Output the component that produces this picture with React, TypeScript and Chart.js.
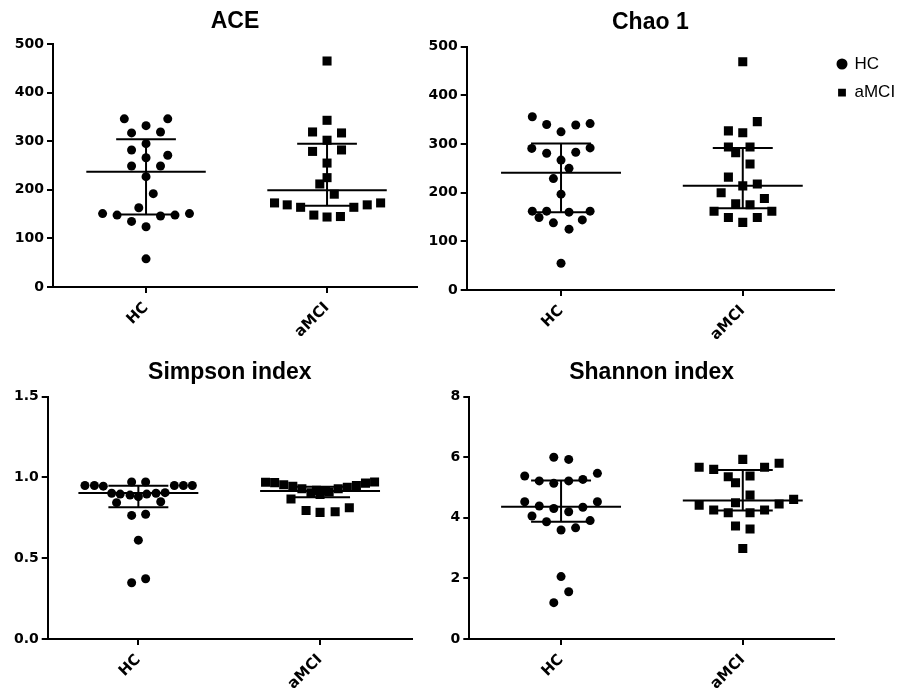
import React, { useEffect, useRef } from 'react';
import { Chart, registerables } from 'chart.js';

Chart.register(...registerables);

// ---------------- data ----------------
const groups = ['HC', 'aMCI'];
const legendLabels = ['HC', 'aMCI'];

// ACE
const aceHC = [346, 346, 332, 317, 319, 295, 282, 271, 266, 249, 249, 227, 192, 163, 151, 148, 146, 148, 151, 135, 124, 58];
const aceHCJitter = [-0.12, 0.12, 0, -0.08, 0.08, 0, -0.08, 0.12, 0, -0.08, 0.08, 0, 0.04, -0.04, -0.24, -0.16, 0.08, 0.16, 0.24, -0.08, 0, 0];
const aceAMCI = [465, 343, 319, 317, 302, 279, 282, 255, 225, 212, 191, 173, 169, 164, 164, 169, 173, 148, 144, 145];
const aceAMCIJitter = [0, 0, -0.08, 0.08, 0, -0.08, 0.08, 0, 0, -0.04, 0.04, -0.29, -0.22, -0.146, 0.148, 0.222, 0.296, -0.073, 0, 0.074];
const aceHCStats = [149, 237, 304]; // Q1, median, Q3
const aceAMCIStats = [167, 199, 295];
const aceYTicks = [0, 100, 200, 300, 400, 500];

// Chao 1
const chaoHC = [356, 340, 325, 339, 342, 291, 281, 283, 292, 267, 250, 229, 197, 162, 162, 160, 162, 149, 138, 144, 125, 55];
const chaoHCJitter = [-0.158, -0.079, 0, 0.081, 0.16, -0.161, -0.079, 0.081, 0.16, 0, 0.044, -0.042, 0, -0.158, -0.079, 0.044, 0.16, -0.121, -0.042, 0.117, 0.044, 0];
const chaoAMCI = [469, 346, 327, 323, 294, 294, 282, 259, 232, 214, 218, 200, 188, 177, 175, 162, 162, 149, 139, 149];
const chaoAMCIJitter = [0, 0.08, -0.079, 0, -0.079, 0.04, -0.039, 0.04, -0.079, 0, 0.08, -0.119, 0.119, -0.039, 0.04, -0.158, 0.16, -0.079, 0, 0.08];
const chaoHCStats = [160, 241, 301];
const chaoAMCIStats = [168, 214, 292];
const chaoYTicks = [0, 100, 200, 300, 400, 500];

// Simpson index
const simpsonHC = [0.95, 0.95, 0.946, 0.972, 0.972, 0.95, 0.95, 0.95, 0.902, 0.897, 0.891, 0.881, 0.897, 0.902, 0.906, 0.844, 0.85, 0.765, 0.772, 0.612, 0.348, 0.373];
const simpsonHCJitter = [-0.294, -0.242, -0.193, -0.037, 0.04, 0.198, 0.248, 0.297, -0.147, -0.1, -0.046, 0, 0.046, 0.097, 0.147, -0.12, 0.123, -0.037, 0.04, 0, -0.037, 0.04];
const simpsonAMCI = [0.97, 0.968, 0.955, 0.945, 0.93, 0.867, 0.905, 0.895, 0.91, 0.93, 0.94, 0.95, 0.965, 0.972, 0.795, 0.784, 0.788, 0.813, 0.92, 0.915];
const simpsonAMCIJitter = [-0.3, -0.25, -0.2, -0.15, -0.1, -0.16, -0.05, 0, 0.05, 0.1, 0.15, 0.2, 0.25, 0.3, -0.077, 0, 0.083, 0.161, -0.02, 0.03];
const simpsonHCStats = [0.815, 0.904, 0.949];
const simpsonAMCIStats = [0.877, 0.916, 0.943];
const simpsonYTicks = [0, 0.5, 1.0, 1.5];

// Shannon index
const shannonHC = [6.0, 5.93, 5.38, 5.47, 5.22, 5.14, 5.22, 5.27, 4.53, 4.39, 4.31, 4.2, 4.35, 4.53, 4.06, 3.87, 3.91, 3.6, 3.67, 2.06, 1.56, 1.2];
const shannonHCJitter = [-0.04, 0.042, -0.2, 0.2, -0.12, -0.04, 0.042, 0.12, -0.2, -0.12, -0.04, 0.042, 0.12, 0.2, -0.16, -0.08, 0.16, 0, 0.08, 0, 0.042, -0.04];
const shannonAMCI = [5.93, 5.67, 5.6, 5.67, 5.8, 5.36, 5.38, 5.16, 4.75, 4.5, 4.42, 4.26, 4.17, 4.17, 4.26, 4.46, 4.61, 3.73, 3.63, 2.99];
const shannonAMCIJitter = [0, -0.24, -0.16, 0.12, 0.2, -0.08, 0.04, -0.04, 0.04, -0.04, -0.24, -0.16, -0.08, 0.04, 0.12, 0.2, 0.28, -0.04, 0.04, 0];
const shannonHCStats = [3.87, 4.37, 5.23];
const shannonAMCIStats = [4.24, 4.57, 5.58];
const shannonYTicks = [0, 2, 4, 6, 8];

// ---------------- styling / layout ----------------
const TICK_FONT = "'DejaVu Sans', sans-serif";
const MAIN_FONT = "Arial, 'Liberation Sans', Helvetica, sans-serif";
const MED_HALF = 0.33;
const IQR_HALF = 0.165;

type PanelSpec = {
  title: string;
  hc: number[]; hcJit: number[];
  am: number[]; amJit: number[];
  hcStats: number[]; amStats: number[];
  yTicks: number[]; decimals: number;
  left: number; top: number; w: number; h: number;
  yWidth: number; xHeight: number; padRight: number;
  titleTop: number; titleBottom: number;
  xMin: number; xMax: number;
  legend: boolean;
};

const panels: PanelSpec[] = [
  {
    title: 'ACE', hc: aceHC, hcJit: aceHCJitter, am: aceAMCI, amJit: aceAMCIJitter,
    hcStats: aceHCStats, amStats: aceAMCIStats, yTicks: aceYTicks, decimals: 0,
    left: 0, top: 0, w: 440, h: 340, yWidth: 53, xHeight: 53, padRight: 23,
    titleTop: 8.2, titleBottom: 8.2, xMin: 0.486, xMax: 2.497, legend: false,
  },
  {
    title: 'Chao 1', hc: chaoHC, hcJit: chaoHCJitter, am: chaoAMCI, amJit: chaoAMCIJitter,
    hcStats: chaoHCStats, amStats: chaoAMCIStats, yTicks: chaoYTicks, decimals: 0,
    left: 420, top: 0, w: 494, h: 340, yWidth: 46.7, xHeight: 50, padRight: 0,
    titleTop: 9.2, titleBottom: 9.9, xMin: 0.481, xMax: 2.502, legend: true,
  },
  {
    title: 'Simpson index', hc: simpsonHC, hcJit: simpsonHCJitter, am: simpsonAMCI, amJit: simpsonAMCIJitter,
    hcStats: simpsonHCStats, amStats: simpsonAMCIStats, yTicks: simpsonYTicks, decimals: 1,
    left: 0, top: 340, w: 440, h: 349, yWidth: 47.7, xHeight: 50, padRight: 28,
    titleTop: 19.2, titleBottom: 9.9, xMin: 0.501, xMax: 2.506, legend: false,
  },
  {
    title: 'Shannon index', hc: shannonHC, hcJit: shannonHCJitter, am: shannonAMCI, amJit: shannonAMCIJitter,
    hcStats: shannonHCStats, amStats: shannonAMCIStats, yTicks: shannonYTicks, decimals: 0,
    left: 420, top: 340, w: 494, h: 349, yWidth: 49.3, xHeight: 50, padRight: 80,
    titleTop: 19.2, titleBottom: 9.9, xMin: 0.495, xMax: 2.502, legend: false,
  },
];

function segments(center: number, stats: number[]) {
  const [q1, med, q3] = stats;
  return [
    [{ x: center - MED_HALF, y: med }, { x: center + MED_HALF, y: med }],
    [{ x: center - IQR_HALF, y: q3 }, { x: center + IQR_HALF, y: q3 }],
    [{ x: center - IQR_HALF, y: q1 }, { x: center + IQR_HALF, y: q1 }],
    [{ x: center, y: q1 }, { x: center, y: q3 }],
  ];
}

const fixedLegendWidth = {
  id: 'fixedLegendWidth',
  beforeLayout(chart: any) {
    const lg = chart.legend;
    if (lg && !lg.__fixed) {
      const orig = lg.fit.bind(lg);
      lg.fit = function () {
        orig();
        lg.width = 80;
      };
      lg.__fixed = true;
    }
  },
};

function buildConfig(p: PanelSpec): any {
  const lineSets = [...segments(1, p.hcStats), ...segments(2, p.amStats)].map((d) => ({
    label: '',
    data: d,
    showLine: true,
    borderColor: '#000',
    borderWidth: 2,
    pointRadius: 0,
    pointHoverRadius: 0,
    fill: false,
  }));
  const hcSet = {
    label: 'HC',
    data: p.hc.map((v, i) => ({ x: 1 + p.hcJit[i], y: v })),
    pointStyle: 'circle',
    pointRadius: 4.5,
    pointHoverRadius: 4.5,
    backgroundColor: '#000',
    borderWidth: 0,
  };
  const amSet = {
    label: 'aMCI',
    data: p.am.map((v, i) => ({ x: 2 + p.amJit[i], y: v })),
    pointStyle: 'rect',
    pointRadius: 6.4,
    pointHoverRadius: 6.4,
    backgroundColor: '#000',
    borderWidth: 0,
  };
  const gridOpts = {
    display: true,
    drawOnChartArea: false,
    drawTicks: true,
    tickLength: 6,
    color: '#000',
    lineWidth: 2,
  };
  const borderOpts = { display: true, color: '#000', width: 2 };
  const yMax = p.yTicks[p.yTicks.length - 1];
  return {
    type: 'scatter',
    data: { datasets: [...lineSets, hcSet, amSet] },
    plugins: p.legend ? [fixedLegendWidth] : [],
    options: {
      responsive: false,
      animation: false,
      devicePixelRatio: 1,
      events: [],
      layout: { padding: { left: 0, right: p.padRight, top: 0, bottom: 0 } },
      scales: {
        x: {
          type: 'linear',
          min: p.xMin,
          max: p.xMax,
          afterBuildTicks: (s: any) => {
            s.ticks = groups.map((_, i) => ({ value: i + 1 }));
          },
          afterFit: (s: any) => {
            s.height = p.xHeight;
          },
          ticks: {
            autoSkip: false,
            maxRotation: 45,
            minRotation: 45,
            padding: 6,
            color: '#000',
            font: { family: TICK_FONT, size: 15, weight: 'bold' },
            callback: (v: number) => groups[Math.round(v) - 1] ?? '',
          },
          grid: gridOpts,
          border: borderOpts,
        },
        y: {
          min: 0,
          max: yMax,
          afterBuildTicks: (s: any) => {
            s.ticks = p.yTicks.map((v) => ({ value: v }));
          },
          afterFit: (s: any) => {
            s.width = p.yWidth;
          },
          ticks: {
            padding: 3,
            color: '#000',
            font: { family: TICK_FONT, size: 14, weight: 'bold' },
            callback: (v: number) => Number(v).toFixed(p.decimals),
          },
          grid: gridOpts,
          border: borderOpts,
        },
      },
      plugins: {
        tooltip: { enabled: false },
        title: {
          display: true,
          text: p.title,
          fullSize: false,
          color: '#000',
          font: { family: MAIN_FONT, size: 23, weight: 'bold', lineHeight: 1.2 },
          padding: { top: p.titleTop, bottom: p.titleBottom },
        },
        legend: p.legend
          ? {
              display: true,
              position: 'right',
              align: 'start',
              fullSize: false,
              title: {
                display: true,
                text: '',
                font: { size: 1, lineHeight: 1 },
                padding: { top: 3.8, bottom: 0 },
              },
              labels: {
                usePointStyle: true,
                boxWidth: 8,
                boxHeight: 7.8,
                padding: 4,
                color: '#000',
                font: { family: MAIN_FONT, size: 17, lineHeight: 1.453 },
                generateLabels: () =>
                  legendLabels.map((t, i) => ({
                    text: [t],
                    fillStyle: '#000',
                    strokeStyle: '#000',
                    fontColor: '#000',
                    lineWidth: 0,
                    pointStyle: i === 0 ? 'circle' : 'rect',
                    hidden: false,
                    datasetIndex: 8 + i,
                  })),
              },
            }
          : { display: false },
      },
    },
  };
}

function Panel({ spec }: { spec: PanelSpec }) {
  const ref = useRef<HTMLCanvasElement>(null);
  useEffect(() => {
    if (!ref.current) return;
    const chart = new Chart(ref.current, buildConfig(spec));
    return () => chart.destroy();
  }, [spec]);
  return (
    <canvas
      ref={ref}
      width={spec.w}
      height={spec.h}
      style={{ position: 'absolute', left: spec.left, top: spec.top, width: spec.w, height: spec.h }}
    />
  );
}

export default function App() {
  return (
    <div style={{ position: 'absolute', left: 0, top: 0, width: 914, height: 689, background: '#fff', overflow: 'hidden' }}>
      {panels.map((p) => (
        <Panel key={p.title} spec={p} />
      ))}
    </div>
  );
}
